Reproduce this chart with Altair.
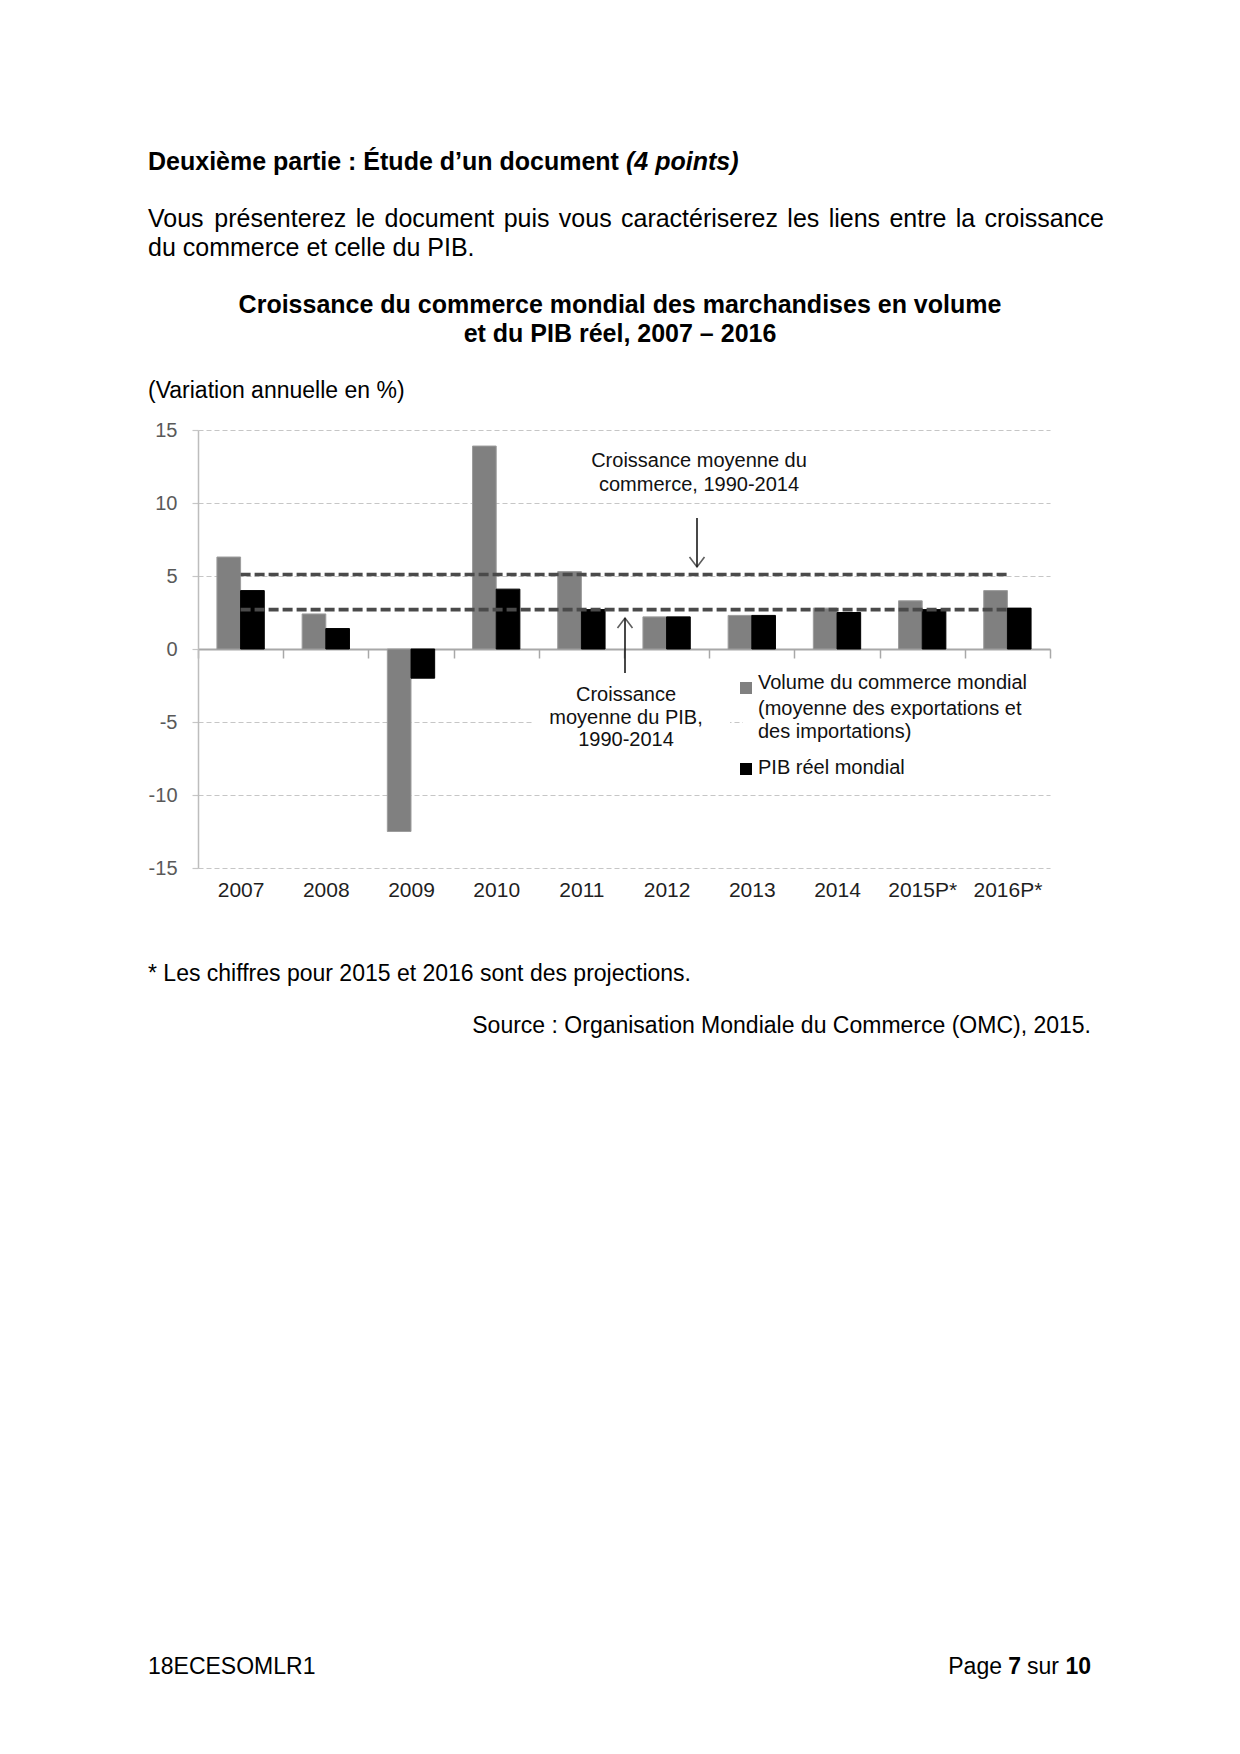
import altair as alt
import pandas as pd

# ---------------- data ----------------
years = ["2007", "2008", "2009", "2010", "2011", "2012", "2013", "2014", "2015P*", "2016P*"]
trade = [6.3, 2.4, -12.5, 13.9, 5.3, 2.2, 2.3, 2.8, 3.3, 4.0]
gdp = [4.0, 1.4, -2.0, 4.1, 2.7, 2.2, 2.3, 2.5, 2.7, 2.8]
series = ["Volume du commerce mondial", "PIB réel mondial"]
avg_trade = 5.1
avg_gdp = 2.7
y_ticks = [-15, -10, -5, 0, 5, 10, 15]

bars_df = pd.DataFrame({
    "year": years * 2,
    "series": [series[0]] * len(years) + [series[1]] * len(years),
    "value": trade + gdp,
})
avg_df = pd.DataFrame({
    "year": years * 2,
    "line": ["commerce"] * len(years) + ["pib"] * len(years),
    "value": [avg_trade] * len(years) + [avg_gdp] * len(years),
})

W, H = 852, 438
FONT = "Liberation Sans"

x_enc = alt.X(
    "year:N", sort=years,
    scale=alt.Scale(domain=years, paddingInner=0, paddingOuter=0),
    axis=alt.Axis(
        title=None, orient="bottom", offset=-H / 2, grid=False,
        domain=True, domainColor="#a8a8a8", domainWidth=2,
        ticks=True, tickBand="extent", tickColor="#a8a8a8", tickWidth=1.5, tickSize=9,
        labelPadding=232, labelBaseline="middle", labelAngle=0,
        labelFont=FONT, labelFontSize=21, labelColor="#1f1f1f",
    ),
)
y_enc = alt.Y(
    "value:Q",
    scale=alt.Scale(domain=[-15, 15], nice=False),
    axis=alt.Axis(
        title=None, values=y_ticks, grid=True, gridColor="#c6c6c6", gridDash=[5, 3], gridWidth=1.2,
        domain=True, domainColor="#bdbdbd", domainWidth=1.5,
        ticks=True, tickSize=6, tickColor="#c6c6c6", tickWidth=1.2,
        labelExpr="datum.value", labelFont=FONT, labelFontSize=20, labelColor="#595959",
        labelPadding=15,
    ),
)

bars = alt.Chart(bars_df).mark_bar(strokeWidth=1).encode(
    x=x_enc,
    xOffset=alt.XOffset("series:N", sort=series,
                        scale=alt.Scale(domain=series, paddingInner=0, paddingOuter=0.8)),
    y=y_enc,
    color=alt.Color("series:N", scale=alt.Scale(domain=series, range=["#808080", "#000000"]), legend=None),
    stroke=alt.Stroke("series:N", scale=alt.Scale(domain=series, range=["#9c9c9c", "#000000"]), legend=None),
)

lines = alt.Chart(avg_df).mark_line(color="#4a4a4a", strokeWidth=3.6, strokeDash=[10, 4]).encode(
    x=alt.X("year:N", sort=years),
    y=alt.Y("value:Q"),
    detail="line:N",
)


def one(s="x"):
    return pd.DataFrame({"t": [s]})


def txt(s, x, y, size=20, weight="normal", style="normal", align="left", color="#111111"):
    return alt.Chart(one(s)).mark_text(
        align=align, baseline="middle", font=FONT, fontSize=size,
        fontWeight=weight, fontStyle=style, color=color,
    ).encode(text="t:N", x=alt.value(x), y=alt.value(y))


def white_box(x, x2, y, y2):
    return alt.Chart(one()).mark_rect(color="white").encode(
        x=alt.value(x), x2=alt.value(x2), y=alt.value(y), y2=alt.value(y2))


def shaft(x, y, y2):
    return alt.Chart(one()).mark_rule(color="#1a1a1a", strokeWidth=1.6).encode(
        x=alt.value(x), y=alt.value(y), y2=alt.value(y2))


def head(x, y, down=True):
    path = "M-0.75,-1L0,0L0.75,-1" if down else "M-0.75,1L0,0L0.75,1"
    return alt.Chart(one()).mark_point(shape=path, filled=False, size=400,
                                       color="#1a1a1a", strokeWidth=1.6).encode(
        x=alt.value(x), y=alt.value(y))


def square(x, y, color):
    return alt.Chart(one()).mark_square(size=144, color=color, opacity=1).encode(
        x=alt.value(x), y=alt.value(y))


layers = [bars, lines]

# boxes of the annotation and legend hiding the -5 gridline
layers += [white_box(334, 532, 285, 299), white_box(545, 856, 285, 299)]

# annotations
layers += [
    txt("Croissance moyenne du", 501, 31, align="center"),
    txt("commerce, 1990-2014", 501, 55, align="center"),
    shaft(499, 88, 137), head(499, 137, down=True),
    txt("Croissance", 428, 265, align="center"),
    txt("moyenne du PIB,", 428, 288, align="center"),
    txt("1990-2014", 428, 310, align="center"),
    shaft(427, 188, 243), head(427, 188, down=False),
]

# legend
layers += [
    square(548, 258, "#808080"),
    txt("Volume du commerce mondial", 560, 253),
    txt("(moyenne des exportations et", 560, 279),
    txt("des importations)", 560, 302),
    square(548, 339, "#000000"),
    txt("PIB réel mondial", 560, 338),
]

# page texts (positions relative to the plot origin)
L = -50
layers += [
    txt("Deuxième partie : Étude d’un document", L, -268, size=25, weight="bold", color="#000"),
    txt("(4 points)", 428, -268, size=25, weight="bold", style="italic", color="#000"),
]

# justified first line of the paragraph
AW = {'V': .667, 'o': .556, 'u': .556, 's': .5, 'p': .556, 'r': .333, 'é': .556, 'e': .556,
      'n': .556, 't': .278, 'z': .5, 'l': .222, 'd': .556, 'c': .5, 'm': .833, 'i': .222,
      'v': .5, 'a': .556}
words = ["Vous", "présenterez", "le", "document", "puis", "vous", "caractériserez",
         "les", "liens", "entre", "la", "croissance"]
line_w = 956
ww = [sum(AW[c] for c in w) * 25 for w in words]
gap = (line_w - sum(ww)) / (len(words) - 1)
pos = L
for w, wd in zip(words, ww):
    layers.append(txt(w, pos, -211, size=25, color="#000"))
    pos += wd + gap

layers += [
    txt("du commerce et celle du PIB.", L, -182, size=25, color="#000"),
    txt("Croissance du commerce mondial des marchandises en volume", 422, -125, size=25,
        weight="bold", align="center", color="#000"),
    txt("et du PIB réel, 2007 – 2016", 422, -96, size=25, weight="bold", align="center", color="#000"),
    txt("(Variation annuelle en %)", L, -39, size=23, color="#000"),
    txt("* Les chiffres pour 2015 et 2016 sont des projections.", L, 544, size=23, color="#000"),
    txt("Source : Organisation Mondiale du Commerce (OMC), 2015.", 893, 596, size=23,
        align="right", color="#000"),
    txt("18ECESOMLR1", L, 1237, size=23, color="#000"),
    txt("10", 893, 1237, size=23, weight="bold", align="right", color="#000"),
    txt("sur", 861, 1237, size=23, align="right", color="#000"),
    txt("7", 823, 1237, size=23, weight="bold", align="right", color="#000"),
    txt("Page", 804, 1237, size=23, align="right", color="#000"),
]

chart = alt.layer(*layers).properties(
    width=W, height=H,
    padding={"left": 190, "top": 422, "right": 182, "bottom": 878},
    autosize=alt.AutoSizeParams(type="none"),
    background="white",
).configure_view(stroke=None)

chart.save("out.html", embed_options={"renderer": "svg", "actions": False})
